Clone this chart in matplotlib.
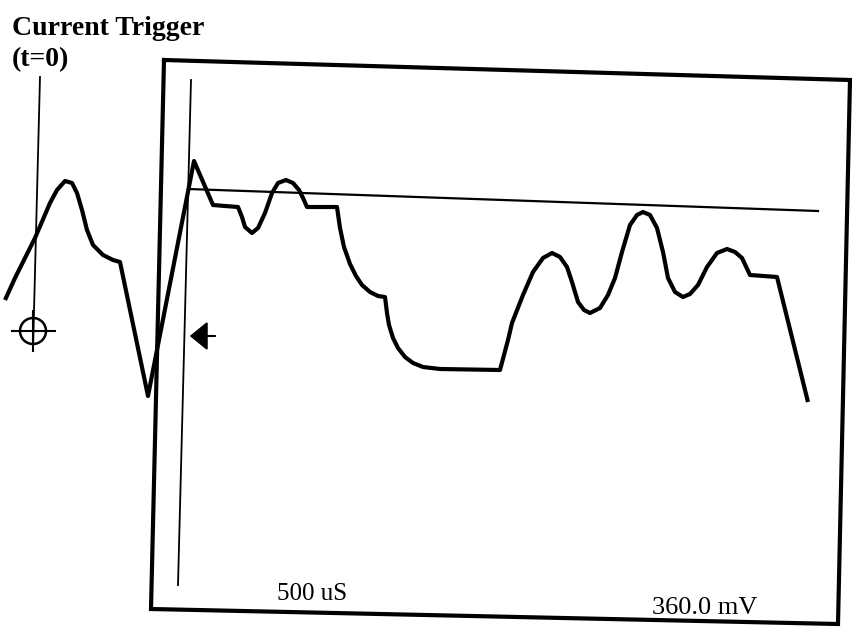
import numpy as np
import matplotlib.pyplot as plt

# coordenadas del trazo (pixeles, y hacia abajo)
onda_x = [5, 15, 25, 35, 50, 57, 65, 72, 77, 82, 87, 93, 103, 113, 120,
          148, 194, 213, 225, 238, 242, 245, 252, 258, 265, 272, 278, 286,
          293, 299, 303, 307, 337, 340, 344, 350, 356, 362, 370, 378, 385,
          387, 389, 393, 398, 405, 413, 423, 440, 500, 508, 512, 523, 533,
          543, 552, 560, 567, 572, 578, 584, 590, 600, 608, 615, 622, 630,
          637, 643, 650, 657, 663, 668, 675, 683, 690, 698, 707, 717, 727,
          735, 742, 750, 777, 808]
onda_y = [300, 278, 258, 238, 203, 190, 181, 183, 193, 210, 230, 245, 255,
          260, 262, 396, 161, 205, 206, 207, 217, 227, 233, 228, 213, 193,
          183, 180, 183, 190, 198, 207, 207, 228, 247, 264, 276, 285, 292,
          296, 297, 313, 325, 338, 348, 357, 363, 367, 369, 370, 340, 323,
          295, 272, 258, 253, 257, 267, 282, 302, 310, 313, 308, 295, 278,
          252, 225, 215, 212, 215, 228, 252, 278, 292, 297, 294, 285, 267,
          253, 249, 252, 258, 275, 277, 402]

# marco de la pantalla (ligeramente girado)
marco_x = [164, 850, 838, 151, 164]
marco_y = [60, 80, 624, 609, 60]

# lineas de referencia
disparo_x, disparo_y = [191, 178], [80, 585]
cero_x, cero_y = [40, 33], [77, 350]
nivel_x, nivel_y = [188, 818], [189, 211]
cruz = (33, 331)

fig = plt.figure(figsize=(8.52, 6.27), dpi=100)
ax = fig.add_axes([0, 0, 1, 1])
ax.set_xlim(0, 852)
ax.set_ylim(627, 0)
ax.axis('off')

ax.plot(marco_x, marco_y, color='black', linewidth=3, solid_joinstyle='miter')
ax.plot(disparo_x, disparo_y, color='black', linewidth=1.3)
ax.plot(cero_x, cero_y, color='black', linewidth=1.3)
ax.plot(nivel_x, nivel_y, color='black', linewidth=1.6)
ax.plot(onda_x, onda_y, color='black', linewidth=3,
        solid_joinstyle='round', solid_capstyle='butt')

# marcador de cruz con circulo
circ = plt.Circle(cruz, 13, fill=False, color='black', linewidth=1.8)
ax.add_patch(circ)
ax.plot([12, 55], [cruz[1], cruz[1]], color='black', linewidth=1.5)
ax.plot([cruz[0], cruz[0]], [cruz[1] - 20, cruz[1] + 20], color='black',
        linewidth=1.5)

# flecha del nivel de disparo
ax.annotate('', xy=(187, 336), xytext=(218, 336),
            arrowprops=dict(arrowstyle='-|>,head_length=0.55,head_width=0.45',
                            mutation_scale=20, color='black', linewidth=1.5))

fuente = 'Liberation Serif'
ax.text(12, 35, 'Current Trigger', fontsize=20, fontweight='bold',
        family=fuente, va='baseline')
ax.text(12, 66, '(t=0)', fontsize=20, fontweight='bold',
        family=fuente, va='baseline')
ax.text(277, 600, '500 uS', fontsize=18, family=fuente, va='baseline')
ax.text(652, 614, '360.0 mV', fontsize=19, family=fuente, va='baseline')

plt.savefig('out.png', dpi=100)
